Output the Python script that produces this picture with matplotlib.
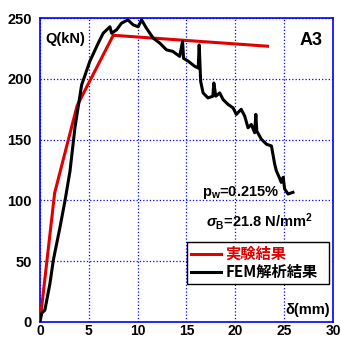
import matplotlib
matplotlib.use("Agg")
import matplotlib.pyplot as plt

plt.rcParams['font.family'] = ['Liberation Sans', 'Noto Sans CJK JP', 'DejaVu Sans']
plt.rcParams['mathtext.fontset'] = 'custom'
plt.rcParams['mathtext.rm'] = 'Liberation Sans:bold'
plt.rcParams['mathtext.it'] = 'Liberation Sans:italic:bold'
plt.rcParams['mathtext.bf'] = 'Liberation Sans:bold'

# experiment (red)
exp_x = [0, 1.5, 3.8, 7.5, 23.3]
exp_y = [0, 106, 178, 236, 227]

# FEM analysis (black)
fem_x = [0, 0.17, 0.5, 1.02, 1.36, 2.05, 2.56, 3.07, 3.58, 4.26, 5.1, 5.96, 6.47,
         7.16, 7.33, 7.84, 8.35, 9.0, 9.54, 10.05, 10.4, 10.9, 11.6, 12.27, 12.95,
         13.6, 14.3, 14.6, 14.7, 15.2, 15.85, 16.2, 16.3, 16.45, 16.7, 17.2, 17.7,
         17.8, 18.0, 18.4, 18.75, 19.26, 19.77, 20.1, 20.6, 20.96, 21.3, 21.64,
         21.98, 22.1, 22.2, 22.67, 23.2, 23.7, 24.03, 24.2, 24.5, 24.7, 24.9,
         25.05, 25.4, 25.9]
fem_y = [0, 6.9, 9.6, 31.5, 50.5, 78, 99.7, 124, 160, 195, 214.5, 229.5, 237.7,
         243, 237.7, 240.5, 246, 248.7, 244.6, 243, 248.7, 241.8, 233.6, 229.5, 224,
         222.7, 218.6, 231, 217, 214.5, 210.4, 209, 228, 198, 188.5, 184.4, 185.8,
         196.7, 185.8, 188.5, 183, 179, 176.2, 170.8, 175, 169.4, 159.8, 162.5,
         155.7, 170.8, 157, 150.3, 146.2, 144.8, 129.8, 124.3, 118.9, 114.8, 119,
         109.3, 105.2, 106.6]

xticks = [0, 5, 10, 15, 20, 25, 30]
yticks = [0, 50, 100, 150, 200, 250]

fig = plt.figure(figsize=(3.41, 3.38), dpi=100)
ax = fig.add_axes([0.1173, 0.0482, 0.8592, 0.8977])

ax.plot(exp_x, exp_y, color='#e00000', lw=2.2, label='実験結果', zorder=3)
ax.plot(fem_x, fem_y, color='black', lw=2.2, label='FEM解析結果', zorder=4)

ax.set_xlim(0, 30)
ax.set_ylim(0, 250)
ax.set_xticks(xticks)
ax.set_yticks(yticks)
ax.tick_params(length=0, labelsize=10.5)
ax.tick_params(axis='y', pad=6)
ax.tick_params(axis='x', pad=2, labelsize=10)
for lab in ax.get_xticklabels() + ax.get_yticklabels():
    lab.set_fontweight('bold')
ax.grid(True, color='#0000ff', ls=':', lw=0.9)
for sp in ax.spines.values():
    sp.set_color('#0000ff')
    sp.set_linewidth(1.2)

ax.text(0.02, 0.955, 'Q(kN)', transform=ax.transAxes, fontsize=10.5,
        fontweight='bold', va='top', ha='left')
ax.text(0.965, 0.955, 'A3', transform=ax.transAxes, fontsize=13,
        fontweight='bold', va='top', ha='right')
ax.text(0.553, 0.425, r'p$_{\rm w}$=0.215%', transform=ax.transAxes,
        fontsize=10.5, fontweight='bold', va='center', ha='left')
ax.text(0.565, 0.33, r'$\sigma_{\rm B}$=21.8 N/mm$^2$', transform=ax.transAxes,
        fontsize=10.5, fontweight='bold', va='center', ha='left')
ax.text(0.99, 0.04, 'δ(mm)', transform=ax.transAxes, fontsize=10.5,
        fontweight='bold', va='center', ha='right')

leg = ax.legend(loc='lower left', bbox_to_anchor=(0.502, 0.124, 0.484, 0.149),
                mode='expand', fancybox=False, framealpha=1, edgecolor='black',
                borderaxespad=0, handlelength=2.0, handletextpad=0.25,
                labelspacing=0.15, borderpad=0.25,
                prop={'family': ['Noto Sans CJK JP'], 'weight': 'bold', 'size': 11})
leg.get_frame().set_linewidth(1.0)
leg.get_texts()[0].set_color('#e00000')

fig.savefig('out.png', dpi=100)
